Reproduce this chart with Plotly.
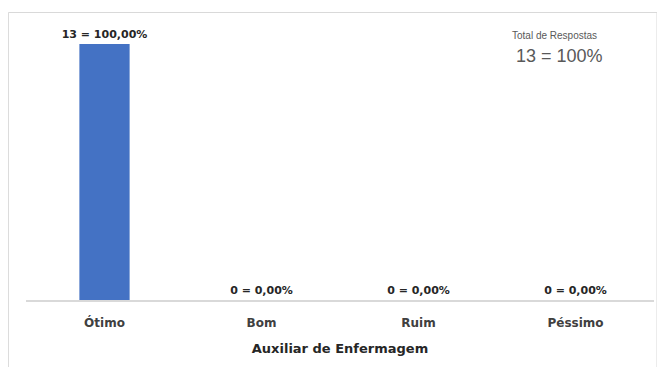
import plotly.graph_objects as go

categorias = ["Ótimo", "Bom", "Ruim", "Péssimo"]
respostas = [13, 0, 0, 0]
total = 13
eixo_titulo = "Auxiliar de Enfermagem"

rotulos = [f"{v} = {v / total * 100:.2f}%".replace(".", ",") for v in respostas]

fig = go.Figure()
fig.add_trace(
    go.Bar(
        x=categorias,
        y=respostas,
        text=rotulos,
        textposition="outside",
        cliponaxis=False,
        constraintext="none",
        textfont=dict(family="DejaVu Sans", size=11, color="#262626", weight="bold"),
        marker=dict(color="#4472C4", line=dict(width=0)),
        width=0.32,
        showlegend=False,
    )
)

# caixa em volta do grafico (a pagina tem 8px de margem no body)
fig.add_shape(type="rect", xref="paper", yref="paper",
              x0=-0.028, x1=1.0048, y0=-0.4, y1=1.123,
              line=dict(color="#d9d9d9", width=1))

fig.add_annotation(text="Total de Respostas", xref="paper", yref="paper",
                   x=0.841, y=1.035, xanchor="center", yanchor="middle",
                   showarrow=False,
                   font=dict(family="Liberation Sans", size=10, color="#595959"))
fig.add_annotation(text=f"{total} = 100%", xref="paper", yref="paper",
                   x=0.849, y=0.953, xanchor="center", yanchor="middle",
                   showarrow=False,
                   font=dict(family="Liberation Sans", size=18, color="#595959"))

fig.update_layout(
    width=657, height=359,
    margin=dict(l=18, r=11, t=36, b=67),
    paper_bgcolor="white", plot_bgcolor="white",
)
fig.update_xaxes(
    title_text=f"<b>{eixo_titulo}</b>",
    title_font=dict(family="DejaVu Sans", size=13, color="#262626"),
    title_standoff=14,
    tickfont=dict(family="DejaVu Sans", size=12, color="#404040", weight="bold"),
    showline=True, linecolor="#d9d9d9", linewidth=2,
    ticks="", ticklabelstandoff=11,
)
fig.update_yaxes(range=[0, 13], visible=False, showgrid=False)

fig.write_html("out.html")
